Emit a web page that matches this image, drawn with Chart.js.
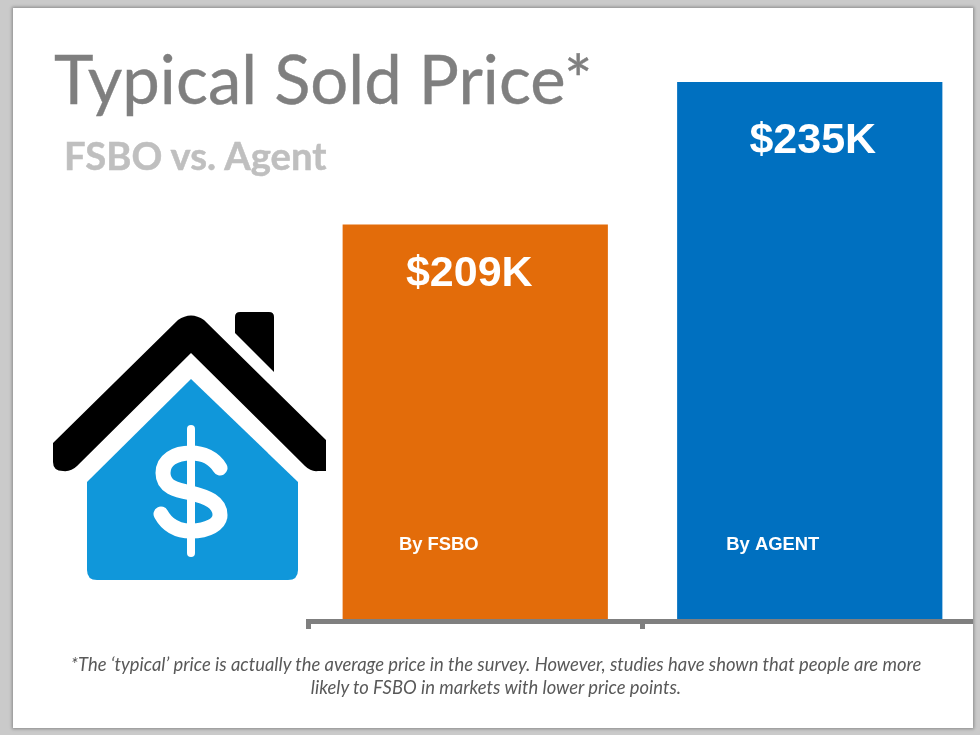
<!DOCTYPE html>
<html>
<head>
<meta charset="utf-8">
<script src="https://cdnjs.cloudflare.com/ajax/libs/Chart.js/4.4.1/chart.umd.js"></script>
<style>
  html, body { margin: 0; width: 980px; height: 735px; overflow: hidden; background: #cacaca; }
  #slide { position: absolute; left: 13px; top: 8px; width: 960px; height: 720px; background: #fff; overflow: hidden;
           box-shadow: 0 0 3px 1px #8a8a8a; }
  #chart { position: absolute; left: -13px; top: -8px; }
  .txt { position: absolute; white-space: nowrap; margin: 0; font-family: Lato, sans-serif; font-weight: 400; }
  #title { left: 41px; top: 28px; font-size: 67px; line-height: 84px; color: #7f7f7f; -webkit-text-stroke: 0.4px #7f7f7f; }
  #subtitle { left: 51px; top: 123px; font-size: 38.2px; line-height: 48px; font-weight: 700; color: #bfbfbf; -webkit-text-stroke: 0.5px #bfbfbf; }
  #note { left: 0; width: 966px; top: 645px; font-size: 18.4px; line-height: 23px; font-style: italic; color: #595959; text-align: center; white-space: normal; }
  #house { position: absolute; left: 0; top: 0; }
</style>
</head>
<body>
<div id="slide">
  <canvas id="chart" width="980" height="735"></canvas>
  <h1 class="txt" id="title">Typical Sold Price*</h1>
  <h2 class="txt" id="subtitle">FSBO vs. Agent</h2>
  <p class="txt" id="note">*The ‘typical’ price is actually the average price in the survey. However, studies have shown that people are more<br>likely to FSBO in markets with lower price points.</p>
  <svg id="house" width="960" height="720" viewBox="13 8 960 720">
    <path fill="#000" d="M53 443 L178 320 Q191 311 204 320 L326 440 V471 H318 Q311 472 305 466 L191 353 L77 466 Q71 472 63 471 Q53 471 53 462 Z"/>
    <path fill="#000" d="M235 317 Q235 312 240 312 H269 Q274 312 274 317 V372 L235 333 Z"/>
    <path fill="#1097da" d="M191 379 L298 482 V570 Q298 580 288 580 H97 Q87 580 87 570 V482 Z"/>
    <path fill="none" stroke="#fff" stroke-width="8" stroke-linecap="round" d="M191 429 V553"/>
    <path fill="none" stroke="#fff" stroke-width="15" stroke-linecap="round" d="M220 468 C214 458 203 453 191 453 C175 453 163 460 163 473 C163 487 176 490 191 493 C207 497 220 502 220 515 C220 524 208 531 191 531 C176 531 167 525 161 514"/>
  </svg>
</div>
<script>
const categories = ['By FSBO', 'By AGENT'];
const priceValues = [209, 235];
const barColors = ['#e36c0a', '#0070c0'];
const axisMin = 136.7;

// labels sit inside the bars, not under the axis
const barLabels = {
  id: 'barLabels',
  afterDatasetsDraw(chart) {
    const ctx = chart.ctx;
    const bars = chart.getDatasetMeta(0).data;
    const valueNudge = [-6, 3];
    const valueDrop = [61, 71];
    const nameNudge = [-36.5, -37];
    ctx.save();
    ctx.fillStyle = '#fff';
    ctx.textAlign = 'center';
    ctx.textBaseline = 'alphabetic';
    bars.forEach((bar, i) => {
      ctx.font = 'bold 43px "Liberation Sans"';
      ctx.fillText('$' + priceValues[i] + 'K', bar.x + valueNudge[i], bar.y + valueDrop[i]);
      ctx.font = 'bold 18.4px "Liberation Sans"';
      ctx.fillText(categories[i], bar.x + nameNudge[i], chart.scales.y.bottom - 71);
    });
    ctx.restore();
  }
};

new Chart(document.getElementById('chart'), {
  type: 'bar',
  data: {
    labels: categories,
    datasets: [{
      data: priceValues,
      backgroundColor: barColors,
      categoryPercentage: 1,
      barPercentage: 0.793
    }]
  },
  options: {
    responsive: false,
    animation: false,
    layout: { padding: { left: 308, right: 3, top: 82, bottom: 114 } },
    plugins: { legend: { display: false }, title: { display: false }, tooltip: { enabled: false } },
    scales: {
      x: {
        afterFit(scale) { scale.height = 0; },
        ticks: { display: false },
        border: { color: '#7f7f7f', width: 5, z: 1 },
        grid: { drawOnChartArea: false, tickColor: '#7f7f7f', tickWidth: 5, tickLength: 8 }
      },
      y: { display: false, min: axisMin, max: 235 }
    }
  },
  plugins: [barLabels]
});
</script>
</body>
</html>
